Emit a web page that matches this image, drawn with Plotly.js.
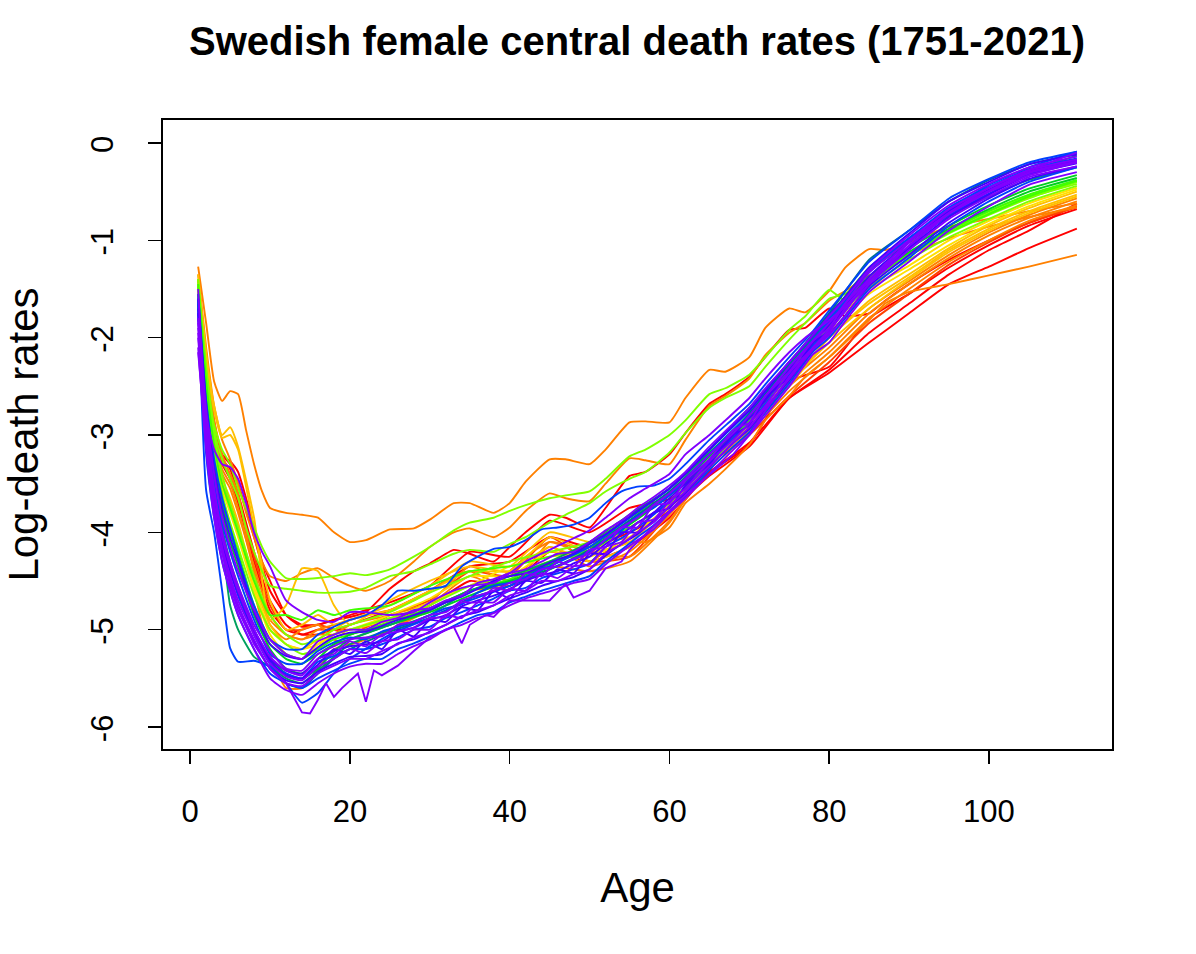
<!DOCTYPE html>
<html><head><meta charset="utf-8">
<script src="https://cdn.plot.ly/plotly-3.0.1.min.js"></script>
<style>html,body{margin:0;padding:0;background:#fff}#c{width:1196px;height:954px}</style>
</head><body><div id="c"></div>
<script>
const chartTitle = "Swedish female central death rates (1751-2021)";
const xTitle = "Age", yTitle = "Log-death rates";
const xTicks = [0,20,40,60,80,100];
const yTicks = [0,-1,-2,-3,-4,-5,-6];
const yTickText = ["0","-1","-2","-3","-4","-5","-6"];

const ages = [1,2,3,4,5,6,8,10,12,14,16,18,20,25,30,35,40,45,50,55,60,65,70,75,80,85,90,95,100,105,111];
const agesFine = [1,2,3,4,5,6,7,8,9,10,12,14,16,18,20,22,25,28,30,33,35,38,40,42,45,47,50,52,55,57,60,62,65,67,70,72,75,77,80,82,85,87,90,95,100,105,111];
const agesJag = [1,2,3,4,5,6,8,10,12,13,14,15,16,17,18,19,21,22,23,24,26,28,30,33,34,35,37,38,40,42,45,47,48,50,52,54,55,57,60,62,65,68,70,72,75,78,80,82,85,90,95,100,105,111];
const agesBand = [1,2,3,4,5,6,8,10,12,14,16,18,20,22,24,26,28,30,32,34,36,38,40,42,44,46,48,50,52,54,56,58,60,62,65,68,70,72,75,78,80,82,85,90,95,100,105,111];

// early years: reds and oranges
const red1 = [-1.45,-2.3,-2.95,-3.25,-3.35,-3.6,-4.2,-4.7,-4.95,-5.05,-5.0,-5.0,-4.95,-4.8,-4.6,-4.35,-4.3,-4.05,-4.15,-4.0,-3.78,-3.42,-3.12,-2.62,-2.36,-2.05,-1.75,-1.45,-1.27,-1.08,-0.88];
const red2 = [-1.4,-2.3,-2.9,-3.2,-3.3,-3.5,-4.05,-4.6,-4.85,-4.95,-4.95,-4.9,-4.85,-4.72,-4.55,-4.2,-4.25,-3.88,-4.0,-3.75,-3.66,-3.38,-3.1,-2.45,-2.3,-1.8,-1.55,-1.28,-1.05,-0.85,-0.68];
const red3 = [-1.5,-2.4,-3.0,-3.3,-3.45,-3.7,-4.3,-4.8,-5.0,-5.05,-5.05,-5.0,-5.0,-4.9,-4.75,-4.5,-4.55,-4.2,-4.3,-4.15,-3.85,-3.38,-3.08,-2.62,-2.33,-1.95,-1.65,-1.35,-1.1,-0.9,-0.62];
const redOrange1 = [-1.45,-2.35,-2.95,-3.3,-3.4,-3.65,-4.25,-4.75,-5.0,-5.0,-4.95,-5.0,-5.05,-4.85,-4.7,-4.4,-4.45,-4.05,-4.3,-4.25,-3.8,-3.3,-3.0,-2.6,-2.25,-1.85,-1.55,-1.25,-1.02,-0.82,-0.66];
const orange1 = [-1.5,-2.4,-3.05,-3.4,-3.55,-3.8,-4.35,-4.85,-5.05,-5.1,-5.05,-5.05,-4.95,-4.85,-4.72,-4.35,-4.5,-4.15,-4.35,-4.2,-3.82,-3.35,-2.98,-2.55,-2.2,-1.8,-1.5,-1.22,-1.0,-0.8,-0.64];
const orange2 = [-1.45,-2.3,-2.95,-3.35,-3.5,-3.75,-4.4,-4.95,-5.1,-5.0,-4.95,-5.1,-5.15,-5.0,-4.75,-4.45,-4.6,-4.1,-4.2,-4.25,-3.88,-3.3,-2.95,-2.5,-2.15,-1.75,-1.45,-1.18,-0.95,-0.77,-0.6];
const orange3 = [-1.55,-2.45,-3.1,-3.5,-3.7,-3.95,-4.6,-5.25,-5.6,-5.6,-5.4,-5.2,-5.15,-5.0,-4.8,-4.6,-4.55,-4.35,-4.4,-4.3,-3.9,-3.3,-2.95,-2.45,-2.1,-1.7,-1.42,-1.15,-0.92,-0.74,-0.57];
const amber1 = [-1.35,-2.15,-2.7,-3.0,-2.92,-3.12,-3.85,-4.9,-4.75,-4.37,-4.4,-4.75,-4.95,-4.7,-4.5,-4.35,-4.4,-4.05,-4.2,-4.1,-3.72,-3.25,-2.95,-2.45,-2.05,-1.7,-1.4,-1.12,-0.9,-0.72,-0.55];
const amber2 = [-1.4,-2.2,-2.75,-3.03,-3.0,-3.15,-3.95,-4.7,-5.0,-4.95,-4.85,-4.95,-4.9,-4.75,-4.55,-4.3,-4.35,-4.0,-4.1,-4.05,-3.75,-3.3,-2.95,-2.5,-2.0,-1.65,-1.38,-1.1,-0.88,-0.7,-0.53];
const amber3 = [-1.5,-2.45,-3.1,-3.45,-3.65,-3.9,-4.5,-4.95,-5.15,-5.2,-5.1,-5.0,-4.9,-4.8,-4.6,-4.4,-4.4,-4.15,-4.3,-4.15,-3.8,-3.3,-2.95,-2.45,-2.0,-1.62,-1.35,-1.08,-0.85,-0.67,-0.5];
const yellow1 = [-1.5,-2.45,-3.1,-3.5,-3.75,-3.95,-4.55,-5.0,-5.15,-5.2,-5.15,-5.05,-5.0,-4.85,-4.68,-4.45,-4.45,-4.2,-4.25,-4.05,-3.72,-3.3,-2.9,-2.4,-1.95,-1.55,-1.3,-1.05,-0.83,-0.65,-0.48];
const yellow2 = [-1.5,-2.5,-3.15,-3.55,-3.8,-4.05,-4.6,-5.05,-5.25,-5.3,-5.15,-5.05,-5.0,-4.9,-4.72,-4.55,-4.35,-4.25,-4.2,-3.95,-3.7,-3.3,-2.88,-2.35,-1.9,-1.5,-1.26,-1.0,-0.8,-0.62,-0.46];
const lime1 = [-1.4,-2.35,-3.0,-3.4,-3.7,-3.95,-4.45,-4.85,-5.05,-5.15,-5.1,-5.0,-4.95,-4.82,-4.62,-4.45,-4.3,-4.2,-4.1,-3.85,-3.6,-3.25,-2.85,-2.35,-1.85,-1.48,-1.2,-0.97,-0.78,-0.6,-0.44];
const lime2 = [-1.45,-2.5,-3.2,-3.6,-3.9,-4.15,-4.65,-5.0,-5.15,-5.25,-5.2,-5.05,-5.0,-4.88,-4.75,-4.55,-4.45,-4.3,-4.2,-3.9,-3.62,-3.3,-2.85,-2.3,-1.82,-1.43,-1.16,-0.93,-0.74,-0.57,-0.4];
const lime3 = [-1.45,-2.45,-3.1,-3.5,-3.75,-4.0,-4.5,-4.85,-4.85,-4.9,-4.8,-4.85,-4.8,-4.75,-4.55,-4.4,-4.35,-4.25,-4.15,-3.95,-3.7,-3.25,-2.8,-2.3,-1.75,-1.4,-1.14,-0.92,-0.73,-0.55,-0.39];
const green1 = [-1.55,-2.6,-3.25,-3.65,-3.95,-4.2,-4.75,-5.1,-5.25,-5.3,-5.2,-5.1,-5.05,-4.92,-4.78,-4.6,-4.48,-4.3,-4.18,-3.92,-3.62,-3.28,-2.85,-2.35,-1.88,-1.42,-1.15,-0.9,-0.7,-0.53,-0.38];
const green2 = [-1.55,-2.65,-3.3,-3.7,-4.0,-4.25,-4.8,-5.15,-5.3,-5.35,-5.25,-5.15,-5.05,-4.95,-4.8,-4.6,-4.5,-4.33,-4.15,-3.88,-3.6,-3.22,-2.8,-2.3,-1.85,-1.4,-1.12,-0.88,-0.68,-0.5,-0.36];
const green3 = [-1.6,-2.7,-3.4,-3.8,-4.1,-4.35,-4.85,-5.2,-5.4,-5.45,-5.3,-5.15,-5.1,-4.95,-4.82,-4.65,-4.5,-4.38,-4.2,-3.92,-3.62,-3.25,-2.82,-2.32,-1.82,-1.37,-1.08,-0.85,-0.64,-0.47,-0.33];
const seaGreen1 = [-1.65,-2.85,-3.6,-4.1,-4.75,-5.0,-5.28,-5.38,-5.5,-5.55,-5.42,-5.28,-5.15,-5.0,-4.85,-4.6,-4.52,-4.35,-4.12,-3.85,-3.55,-3.18,-2.78,-2.28,-1.8,-1.32,-1.02,-0.75,-0.55,-0.38,-0.25];
const seaGreen2 = [-1.6,-2.75,-3.5,-3.95,-4.3,-4.55,-5.0,-5.3,-5.45,-5.5,-5.4,-5.22,-5.1,-4.95,-4.78,-4.6,-4.45,-4.3,-4.1,-3.82,-3.55,-3.15,-2.72,-2.25,-1.78,-1.28,-0.98,-0.7,-0.46,-0.29,-0.13];
const teal1 = [-1.65,-2.85,-3.55,-4.0,-4.35,-4.6,-5.05,-5.35,-5.55,-5.6,-5.45,-5.3,-5.2,-5.02,-4.88,-4.68,-4.55,-4.38,-4.18,-3.88,-3.58,-3.2,-2.78,-2.26,-1.75,-1.2,-0.9,-0.6,-0.38,-0.22,-0.11];
const blue1 = [-1.6,-3.57,-4.0,-4.6,-5.19,-5.33,-5.32,-5.38,-5.55,-5.75,-5.65,-5.45,-5.3,-5.05,-4.88,-4.7,-4.55,-4.35,-4.15,-3.85,-3.55,-3.15,-2.75,-2.25,-1.8,-1.3,-0.98,-0.68,-0.43,-0.25,-0.09];

// later years, read at two-year steps through the band
const blueA = [-1.55,-2.65,-3.25,-3.65,-3.95,-4.25,-4.75,-5.1,-5.2,-5.2,-5.05,-4.97,-4.9,-4.85,-4.75,-4.6,-4.6,-4.58,-4.55,-4.35,-4.25,-4.17,-4.15,-4.08,-3.97,-3.95,-3.92,-3.85,-3.7,-3.58,-3.53,-3.52,-3.45,-3.3,-3.05,-2.83,-2.68,-2.48,-2.2,-1.93,-1.72,-1.52,-1.22,-0.9,-0.57,-0.37,-0.2,-0.09];
const blueB = [-1.65,-2.85,-3.5,-3.9,-4.2,-4.45,-4.9,-5.25,-5.35,-5.35,-5.22,-5.13,-5.08,-5.1,-5.02,-4.97,-4.92,-4.85,-4.78,-4.74,-4.62,-4.55,-4.52,-4.46,-4.37,-4.35,-4.28,-4.2,-4.08,-3.98,-3.83,-3.75,-3.62,-3.47,-3.2,-2.95,-2.8,-2.6,-2.3,-2.02,-1.83,-1.63,-1.33,-0.98,-0.66,-0.45,-0.27,-0.16];
const blueC = [-1.7,-3.0,-3.65,-4.1,-4.4,-4.65,-5.05,-5.35,-5.45,-5.5,-5.33,-5.27,-5.2,-5.2,-5.15,-5.08,-5.0,-4.97,-4.88,-4.82,-4.75,-4.68,-4.6,-4.57,-4.47,-4.42,-4.38,-4.32,-4.15,-4.06,-3.95,-3.82,-3.68,-3.55,-3.28,-3.03,-2.88,-2.68,-2.38,-2.08,-1.92,-1.72,-1.42,-1.06,-0.74,-0.52,-0.32,-0.2];
const blueD = [-1.75,-3.2,-3.85,-4.3,-4.6,-4.85,-5.2,-5.45,-5.55,-5.6,-5.5,-5.42,-5.35,-5.3,-5.3,-5.2,-5.14,-5.07,-5.0,-4.92,-4.85,-4.82,-4.72,-4.66,-4.6,-4.55,-4.5,-4.45,-4.3,-4.18,-4.05,-3.93,-3.78,-3.63,-3.36,-3.12,-2.97,-2.77,-2.47,-2.14,-2.0,-1.8,-1.5,-1.18,-0.85,-0.6,-0.4,-0.25];
const indigoA = [-1.6,-2.7,-3.35,-3.75,-4.05,-4.3,-4.82,-5.15,-5.27,-5.3,-5.18,-5.08,-5.03,-5.02,-4.96,-4.9,-4.85,-4.8,-4.72,-4.66,-4.58,-4.5,-4.45,-4.42,-4.35,-4.28,-4.22,-4.12,-4.02,-3.9,-3.78,-3.67,-3.55,-3.4,-3.15,-2.9,-2.75,-2.55,-2.25,-1.98,-1.77,-1.58,-1.28,-0.93,-0.6,-0.4,-0.22,-0.12];
const indigoB = [-1.75,-2.95,-3.6,-4.05,-4.35,-4.6,-5.0,-5.3,-5.42,-5.45,-5.3,-5.22,-5.17,-5.15,-5.12,-5.02,-4.98,-4.9,-4.85,-4.76,-4.7,-4.65,-4.58,-4.5,-4.44,-4.4,-4.32,-4.25,-4.12,-4.02,-3.9,-3.8,-3.65,-3.5,-3.25,-3.0,-2.83,-2.65,-2.33,-2.05,-1.87,-1.68,-1.37,-1.02,-0.7,-0.48,-0.29,-0.18];
const indigoC = [-1.8,-3.1,-3.75,-4.2,-4.5,-4.75,-5.12,-5.4,-5.52,-5.55,-5.43,-5.35,-5.28,-5.27,-5.25,-5.14,-5.1,-5.02,-4.95,-4.86,-4.82,-4.75,-4.68,-4.62,-4.55,-4.5,-4.46,-4.38,-4.24,-4.12,-4.02,-3.88,-3.74,-3.6,-3.33,-3.08,-2.94,-2.74,-2.44,-2.12,-1.97,-1.77,-1.47,-1.15,-0.82,-0.57,-0.37,-0.24];
const indigoD = [-1.7,-2.95,-3.65,-4.1,-4.4,-4.62,-5.02,-5.32,-5.47,-5.5,-5.36,-5.2,-5.25,-5.12,-5.2,-5.0,-5.07,-4.9,-4.92,-4.77,-4.8,-4.6,-4.68,-4.5,-4.52,-4.38,-4.42,-4.22,-4.22,-4.0,-4.0,-3.8,-3.75,-3.52,-3.3,-3.0,-2.9,-2.62,-2.4,-2.05,-1.93,-1.68,-1.45,-1.08,-0.76,-0.53,-0.33,-0.21];
const violetA = [-1.8,-2.75,-3.4,-3.85,-4.15,-4.4,-4.8,-5.1,-5.25,-5.3,-5.12,-5.05,-5.0,-5.0,-4.92,-4.88,-4.8,-4.78,-4.7,-4.65,-4.52,-4.48,-4.42,-4.38,-4.3,-4.22,-4.2,-4.1,-3.98,-3.88,-3.75,-3.64,-3.52,-3.38,-3.12,-2.88,-2.72,-2.52,-2.25,-1.97,-1.78,-1.6,-1.3,-0.95,-0.64,-0.42,-0.25,-0.14];
const violetB = [-1.85,-2.85,-3.55,-4.0,-4.3,-4.55,-4.95,-5.22,-5.4,-5.42,-5.25,-5.17,-5.1,-5.08,-5.07,-4.95,-4.92,-4.85,-4.82,-4.7,-4.65,-4.6,-4.52,-4.48,-4.38,-4.35,-4.27,-4.22,-4.07,-3.95,-3.85,-3.72,-3.6,-3.45,-3.2,-2.98,-2.8,-2.6,-2.3,-2.03,-1.85,-1.65,-1.33,-1.0,-0.68,-0.46,-0.28,-0.17];
const violetC = [-1.95,-3.0,-3.7,-4.15,-4.45,-4.7,-5.05,-5.35,-5.48,-5.52,-5.38,-5.3,-5.2,-5.24,-5.12,-5.1,-5.0,-5.0,-4.85,-4.88,-4.72,-4.72,-4.58,-4.6,-4.42,-4.47,-4.35,-4.33,-4.15,-4.1,-3.9,-3.87,-3.68,-3.55,-3.27,-3.05,-2.88,-2.7,-2.36,-2.1,-1.92,-1.73,-1.4,-1.06,-0.73,-0.5,-0.31,-0.2];
const violetD = [-2.0,-3.05,-3.75,-4.2,-4.5,-4.75,-5.1,-5.4,-5.55,-5.58,-5.45,-5.37,-5.3,-5.3,-5.22,-5.15,-5.08,-5.03,-4.95,-4.87,-4.8,-4.75,-4.65,-4.6,-4.5,-4.5,-4.43,-4.38,-4.22,-4.12,-4.0,-3.9,-3.73,-3.58,-3.32,-3.08,-2.92,-2.72,-2.42,-2.12,-1.97,-1.78,-1.45,-1.1,-0.78,-0.55,-0.35,-0.24];
const violetE = [-2.1,-3.15,-3.85,-4.3,-4.6,-4.85,-5.2,-5.5,-5.62,-5.67,-5.55,-5.45,-5.38,-5.35,-5.35,-5.25,-5.17,-5.1,-5.0,-4.95,-4.88,-4.83,-4.75,-4.68,-4.63,-4.58,-4.52,-4.48,-4.33,-4.2,-4.08,-3.97,-3.8,-3.65,-3.4,-3.15,-3.0,-2.8,-2.5,-2.17,-2.05,-1.83,-1.53,-1.22,-0.9,-0.65,-0.43,-0.3];
const violetF = [-1.9,-2.9,-3.6,-4.05,-4.35,-4.6,-5.0,-5.28,-5.42,-5.47,-5.3,-5.25,-5.12,-5.17,-5.05,-5.02,-4.98,-4.88,-4.87,-4.72,-4.72,-4.57,-4.6,-4.42,-4.45,-4.3,-4.35,-4.18,-4.15,-3.95,-3.95,-3.72,-3.7,-3.47,-3.25,-2.95,-2.87,-2.6,-2.35,-2.03,-1.9,-1.65,-1.4,-1.02,-0.72,-0.49,-0.3,-0.19];

// outlying years, read at finer age steps
const famine = [-1.27,-1.85,-2.45,-2.65,-2.55,-2.58,-2.95,-3.3,-3.58,-3.75,-3.8,-3.82,-3.85,-4.0,-4.1,-4.08,-3.97,-3.96,-3.87,-3.7,-3.7,-3.8,-3.7,-3.48,-3.25,-3.25,-3.3,-3.15,-2.87,-2.86,-2.87,-2.62,-2.33,-2.35,-2.2,-1.9,-1.7,-1.74,-1.52,-1.28,-1.09,-1.1,-1.02,-0.86,-0.78,-0.7,-0.62];
const orangeHigh = [-1.35,-2.1,-2.7,-3.05,-3.25,-3.5,-3.8,-4.05,-4.3,-4.45,-4.5,-4.42,-4.37,-4.47,-4.55,-4.6,-4.5,-4.3,-4.15,-4.0,-3.96,-4.05,-3.95,-3.78,-3.6,-3.65,-3.68,-3.5,-3.24,-3.26,-3.3,-3.05,-2.7,-2.6,-2.42,-2.18,-1.95,-1.85,-1.62,-1.52,-1.36,-1.3,-1.15,-0.98,-0.86,-0.76,-0.66];
const orangeFlat = [-1.4,-2.2,-2.85,-3.2,-3.4,-3.6,-4.0,-4.4,-4.7,-4.9,-5.05,-5.1,-5.0,-4.95,-4.9,-4.85,-4.8,-4.7,-4.6,-4.45,-4.4,-4.5,-4.4,-4.25,-4.1,-4.15,-4.3,-4.2,-4.1,-4.1,-3.95,-3.7,-3.5,-3.35,-3.1,-2.85,-2.6,-2.4,-2.2,-2.05,-1.82,-1.65,-1.53,-1.45,-1.36,-1.27,-1.15];
const limeHigh = [-1.4,-2.3,-2.9,-3.15,-3.3,-3.55,-3.75,-3.95,-4.15,-4.3,-4.47,-4.48,-4.47,-4.45,-4.42,-4.44,-4.38,-4.25,-4.15,-3.98,-3.9,-3.85,-3.78,-3.72,-3.65,-3.62,-3.58,-3.45,-3.22,-3.15,-3.0,-2.85,-2.58,-2.52,-2.38,-2.2,-1.92,-1.78,-1.51,-1.62,-1.42,-1.3,-1.15,-0.92,-0.72,-0.56,-0.42];
const limeMid = [-1.45,-2.35,-2.95,-3.25,-3.45,-3.65,-3.95,-4.2,-4.4,-4.55,-4.58,-4.6,-4.62,-4.62,-4.61,-4.57,-4.45,-4.4,-4.33,-4.22,-4.18,-4.2,-4.12,-4.05,-3.9,-3.82,-3.7,-3.58,-3.45,-3.38,-3.18,-2.98,-2.72,-2.62,-2.5,-2.3,-2.02,-1.85,-1.6,-1.55,-1.38,-1.28,-1.14,-0.9,-0.7,-0.54,-0.4];
const redHigh = [-1.45,-2.2,-2.85,-3.2,-3.27,-3.38,-3.65,-3.95,-4.3,-4.5,-4.85,-4.97,-4.95,-4.9,-4.87,-4.82,-4.58,-4.4,-4.32,-4.18,-4.22,-4.3,-4.15,-4.0,-3.82,-3.85,-3.95,-3.75,-3.42,-3.38,-3.2,-2.98,-2.68,-2.58,-2.4,-2.2,-1.92,-1.9,-1.7,-1.78,-1.75,-1.62,-1.45,-1.2,-1.0,-0.82,-0.65];
const violetUpper = [-1.5,-2.8,-3.15,-3.3,-3.33,-3.45,-3.7,-4.0,-4.2,-4.35,-4.7,-4.82,-4.9,-4.92,-4.82,-4.82,-4.85,-4.82,-4.72,-4.6,-4.55,-4.52,-4.42,-4.3,-4.18,-4.1,-3.98,-3.85,-3.65,-3.55,-3.4,-3.2,-3.0,-2.85,-2.62,-2.42,-2.15,-2.0,-1.82,-1.68,-1.42,-1.28,-1.02,-0.72,-0.46,-0.28,-0.1];
const violetLow = [-2.15,-3.1,-3.8,-4.2,-4.55,-4.8,-5.15,-5.4,-5.55,-5.7,-5.85,-5.86,-5.72,-5.55,-5.69,-5.6,-5.45,-5.74,-5.42,-5.47,-5.37,-5.22,-5.08,-4.97,-5.14,-4.95,-4.85,-4.87,-4.7,-4.7,-4.7,-4.53,-4.67,-4.6,-4.37,-4.3,-4.18,-4.02,-3.78,-3.62,-3.41,-3.2,-3.0,-2.75,-2.4,-2.1,-1.95,-1.7,-1.45,-1.05,-0.72,-0.5,-0.33,-0.2];

const colRed="#FF0000", colRedOrange="#FF4000", colOrange="#FF8000", colAmber="#FFBF00", colYellow="#FFE000",
      colLime="#80FF00", colBright="#40FF00", colGreen="#00D020", colSea="#00A060", colTeal="#007090",
      colBlue="#0040FF", colIndigo="#4000FF", colViolet="#8000FF";

const curves = [
  [ages,red1,colRed],[agesFine,redHigh,colRed],[ages,red2,colRed],[ages,red3,colRed],[ages,redOrange1,colRedOrange],
  [agesFine,famine,colOrange],[agesFine,orangeHigh,colOrange],[agesFine,orangeFlat,colOrange],
  [ages,orange1,colOrange],[ages,orange2,colOrange],[ages,orange3,colOrange],
  [ages,amber1,colAmber],[ages,amber2,colAmber],[ages,amber3,colAmber],[ages,yellow1,colYellow],[ages,yellow2,colYellow],
  [agesFine,limeHigh,colLime],[agesFine,limeMid,colLime],[ages,lime1,colLime],[ages,lime2,colLime],[ages,lime3,colBright],
  [ages,green1,colBright],[ages,green2,colGreen],[ages,green3,colGreen],[ages,seaGreen1,colSea],[ages,seaGreen2,colSea],[ages,teal1,colTeal],
  [ages,blue1,colBlue],[agesBand,blueA,colBlue],[agesBand,blueB,colBlue],[agesBand,blueC,colBlue],[agesBand,blueD,colBlue],
  [agesBand,indigoA,colIndigo],[agesBand,indigoB,colIndigo],[agesBand,indigoC,colIndigo],[agesBand,indigoD,colIndigo],
  [agesBand,violetA,colViolet],[agesBand,violetB,colViolet],[agesBand,violetC,colViolet],[agesBand,violetD,colViolet],[agesBand,violetE,colViolet],[agesBand,violetF,colViolet],
  [agesFine,violetUpper,colViolet],[agesJag,violetLow,colViolet]
];

const traces = curves.map(c => ({
  x:c[0], y:c[1], type:"scatter", mode:"lines", hoverinfo:"skip",
  line:{color:c[2], width:1.9, shape:c[0]===agesJag?"linear":"spline", smoothing:0.5}
}));

const FONT = "Liberation Sans, Arial, sans-serif";
const axisBase = {showgrid:false, zeroline:false, showline:true, mirror:true, linecolor:"#000", linewidth:1.6,
  ticks:"outside", ticklen:13, tickwidth:1.6, tickcolor:"#000", tickfont:{family:FONT,size:31,color:"#000"}};

Plotly.newPlot("c", traces, {
  width:1196, height:954, showlegend:false, paper_bgcolor:"#fff", plot_bgcolor:"#fff",
  margin:{l:163, r:84, t:120, b:205, pad:0},
  title:{text:"<b>"+chartTitle+"</b>", x:637/1196, xanchor:"center", y:1-41/954, yanchor:"middle",
         font:{family:FONT,size:40,color:"#000"}},
  xaxis:Object.assign({}, axisBase, {range:[-3.4,115.4], tickmode:"array", tickvals:xTicks, ticktext:xTicks.map(String),
    tickangle:0, ticklabelstandoff:21, title:{text:xTitle, standoff:45, font:{family:FONT,size:42,color:"#000"}}}),
  yaxis:Object.assign({}, axisBase, {range:[-6.226,0.236], tickmode:"array", tickvals:yTicks, ticktext:yTickText,
    tickangle:-90, ticklabelstandoff:23, title:{text:yTitle, standoff:45, font:{family:FONT,size:42,color:"#000"}}})
}, {displayModeBar:false, staticPlot:true}).then(gd => {
  // rotated tick labels sit a few pixels high in Plotly; centre them on their ticks
  gd.querySelectorAll(".ytick text").forEach(t => {
    t.setAttribute("transform", "translate(0,6) " + (t.getAttribute("transform") || ""));
  });
});
</script></body></html>
